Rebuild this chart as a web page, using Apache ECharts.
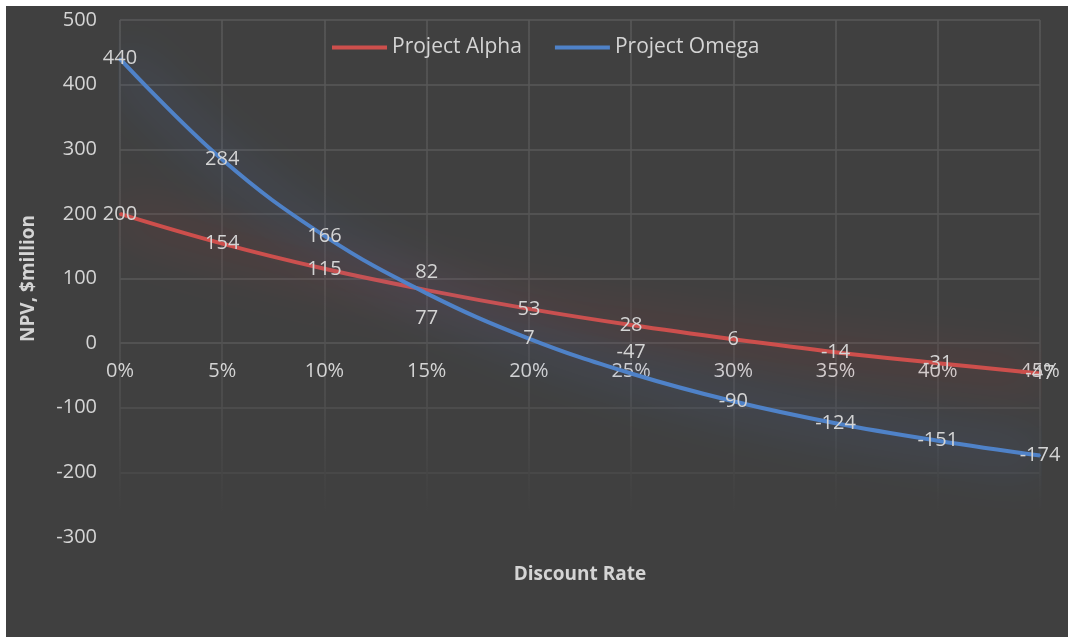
<!DOCTYPE html>
<html>
<head>
<meta charset="utf-8">
<script src="https://cdn.jsdelivr.net/npm/echarts@6/dist/echarts.min.js"></script>
<style>
	html, body {
		margin: 0;
		padding: 0;
		background: #ffffff;
	}

	#npvChart {
		position: absolute;
		left: 6px;
		top: 6px;
		width: 1062px;
		height: 631px;
		background: #404040;
	}
</style>
</head>
<body>
<div id="npvChart"></div>
<script>
const rates = ["0%", "5%", "10%", "15%", "20%", "25%", "30%", "35%", "40%", "45%"];
const alphaNpv = [200, 154, 115, 82, 53, 28, 6, -14, -31, -47];
const omegaNpv = [440, 284, 166, 77, 7, -47, -90, -124, -151, -174];
const yTicks = [-300, -200, -100, 0, 100, 200, 300, 400, 500];

const textColor = "#d4d4d4";
const font = "Open Sans";

// a few labels were nudged by hand in the original so they don't collide
const alphaLabelShift = {3: -18};
const omegaLabelShift = {3: 25, 5: -21};

function withShift(values, shifts) {
	return values.map((v, i) => {
		if (shifts[i] === undefined) return v;
		return {value: v, label: {offset: [0, shifts[i]]}};
	});
}

function lineSeries(name, values, shifts, color, glow) {
	return {
		name: name,
		type: "line",
		data: withShift(values, shifts),
		smooth: 0.4,
		symbol: "circle",
		symbolSize: 2,
		itemStyle: {color: color},
		lineStyle: {
			color: color,
			width: 4,
			shadowColor: glow,
			shadowBlur: 48
		},
		label: {
			show: true,
			position: "inside",
			color: textColor,
			fontFamily: font,
			fontSize: 20
		},
		z: 3
	};
}

const chart = echarts.init(document.getElementById("npvChart"));

const option = {
	backgroundColor: "#404040",
	animation: false,
	textStyle: {fontFamily: font},
	legend: {
		top: 26,
		left: 321,
		icon: "rect",
		itemWidth: 55,
		itemHeight: 4,
		itemGap: 33,
		textStyle: {
			color: textColor,
			fontFamily: font,
			fontSize: 21
		},
		data: ["Project Alpha", "Project Omega"]
	},
	grid: {
		left: 114,
		top: 14,
		right: 28,
		bottom: 100,
		containLabel: false,
		outerBoundsMode: "none"
	},
	xAxis: {
		type: "category",
		data: rates,
		boundaryGap: false,
		name: "Discount Rate",
		nameLocation: "middle",
		nameGap: 222,
		nameTextStyle: {
			color: textColor,
			fontFamily: font,
			fontSize: 19,
			fontWeight: "bold"
		},
		axisLine: {show: false},
		axisTick: {show: false},
		axisLabel: {
			color: textColor,
			fontFamily: font,
			fontSize: 20,
			margin: 18
		},
		splitLine: {
			show: true,
			lineStyle: {
				width: 1.5,
				color: new echarts.graphic.LinearGradient(0, 0, 0, 1, [
					{offset: 0, color: "#595959"},
					{offset: 0.72, color: "#505050"},
					{offset: 0.95, color: "#404040"},
					{offset: 1, color: "#404040"}
				])
			}
		}
	},
	yAxis: {
		type: "value",
		min: yTicks[0],
		max: yTicks[yTicks.length - 1],
		interval: 100,
		name: "NPV, $million",
		nameLocation: "middle",
		nameGap: 82,
		nameTextStyle: {
			color: textColor,
			fontFamily: font,
			fontSize: 19,
			fontWeight: "bold"
		},
		axisLine: {show: false},
		axisTick: {show: false},
		axisLabel: {
			color: textColor,
			fontFamily: font,
			fontSize: 20,
			margin: 23
		},
		splitLine: {
			show: true,
			lineStyle: {
				width: 1.5,
				color: ["#404040", "#4b4b4b", "#515151", "#595959", "#595959", "#595959", "#595959", "#595959", "#595959"]
			}
		}
	},
	series: [
		lineSeries("Project Alpha", alphaNpv, alphaLabelShift, "#cd4f4c", "rgba(205, 50, 50, 1)"),
		lineSeries("Project Omega", omegaNpv, omegaLabelShift, "#4f82c8", "rgba(70, 125, 220, 1)")
	]
};

chart.setOption(option);

// Excel puts the category labels on the zero line; move the x axis up to y = 0
const zeroY = chart.convertToPixel({yAxisIndex: 0}, 0);
const bottomY = chart.convertToPixel({yAxisIndex: 0}, yTicks[0]);
chart.setOption({xAxis: {offset: zeroY - bottomY}});
</script>
</body>
</html>
